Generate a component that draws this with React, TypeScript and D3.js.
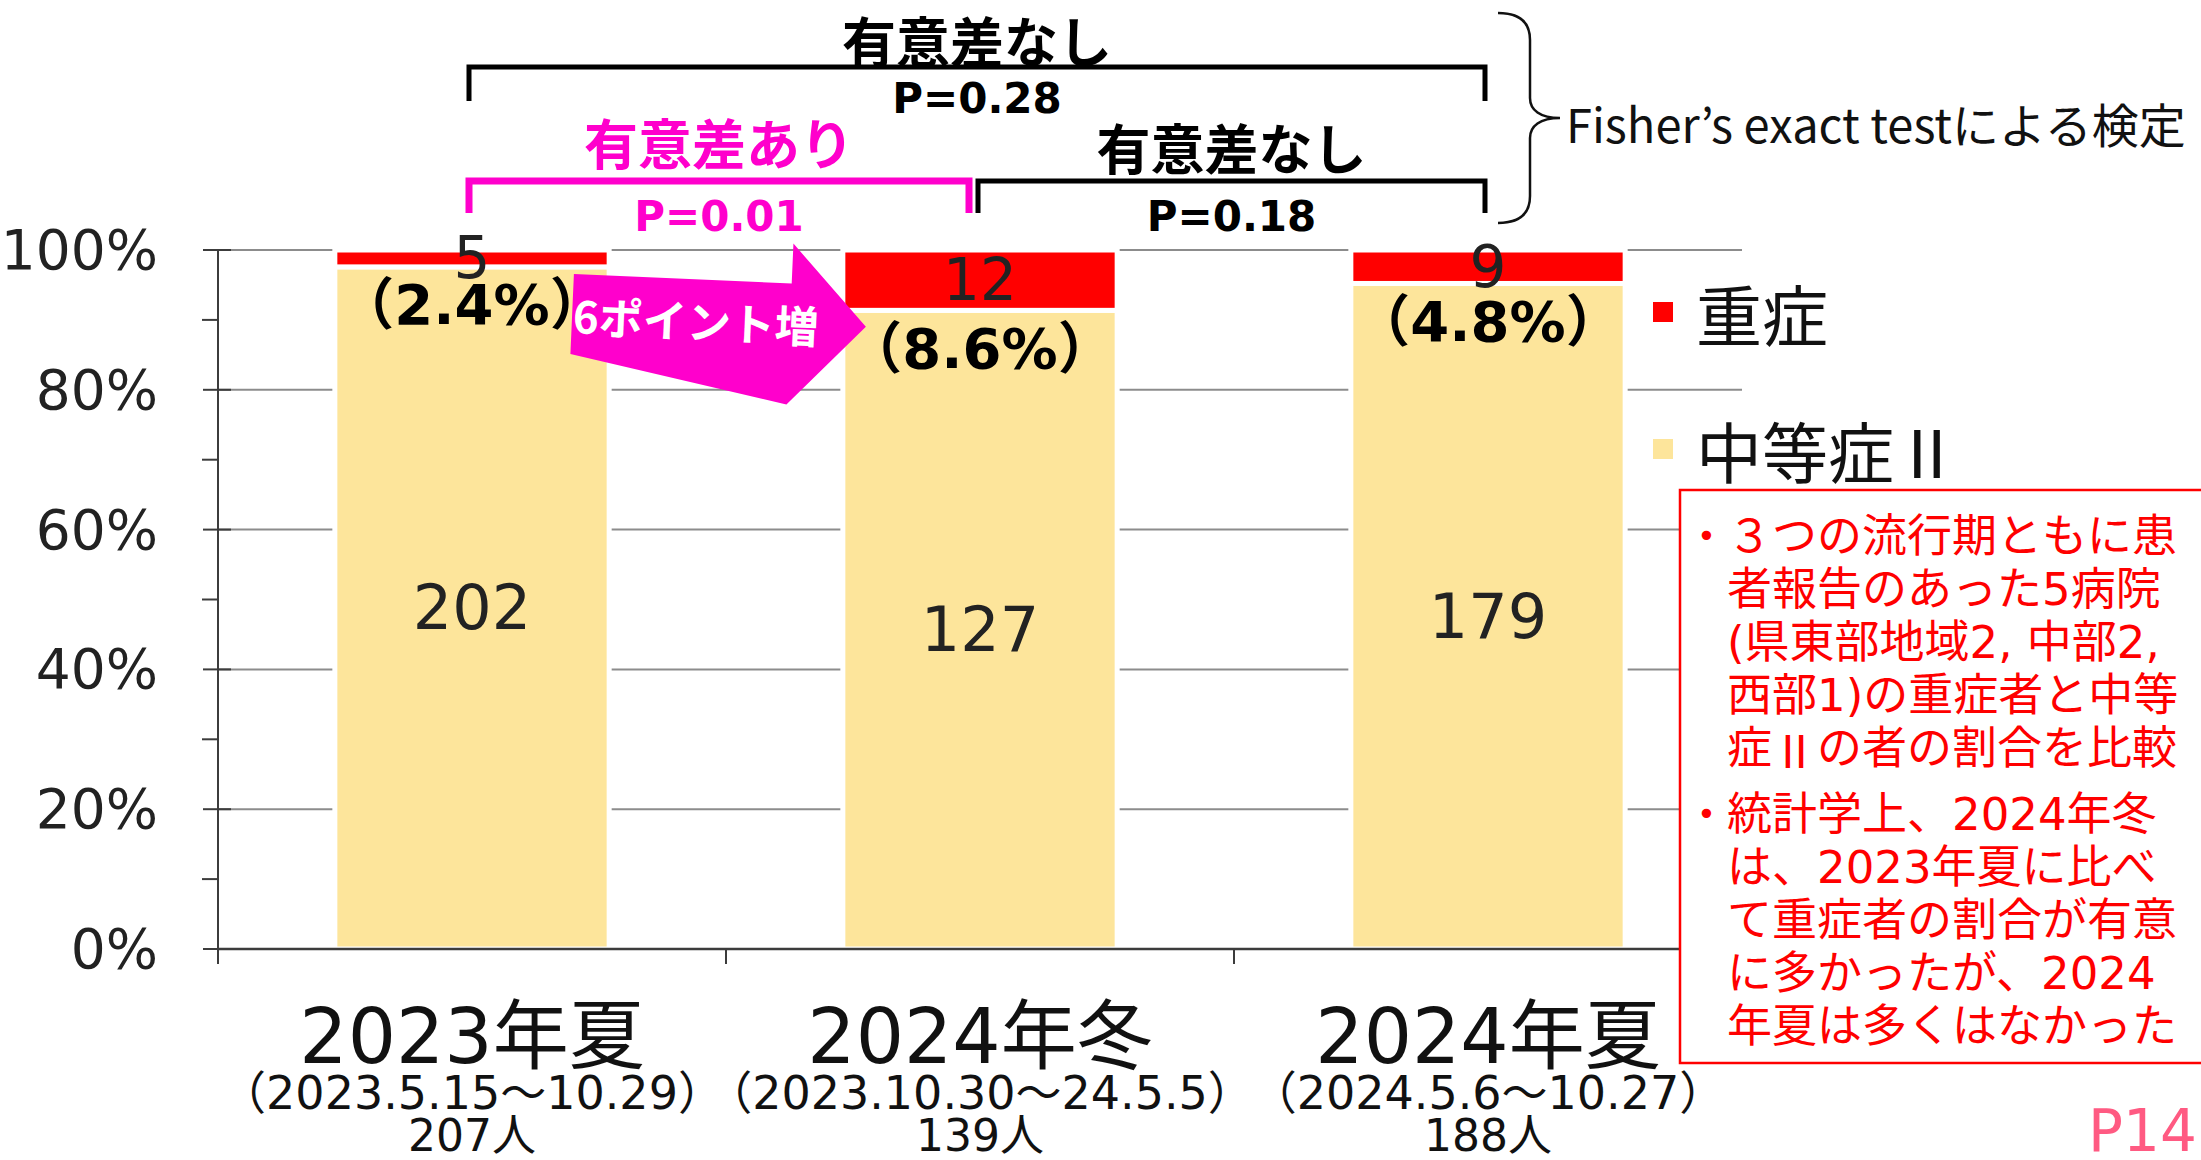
import React, { useRef, useEffect } from 'react';
import * as d3 from 'd3';

// categories and counts
const periods = ['2023年夏', '2024年冬', '2024年夏'];
const periodRanges = ['（2023.5.15～10.29）', '（2023.10.30～24.5.5）', '（2024.5.6～10.27）'];
const severe = [5, 12, 9];
const moderate = [202, 127, 179];
const seriesNames = ['重症', '中等症Ⅱ'];
const seriesColors = ['#ff0000', '#fde59b'];
const yTicks = [0, 0.2, 0.4, 0.6, 0.8, 1];
const yMinorTicks = [0.1, 0.3, 0.5, 0.7, 0.9];

// Fisher's exact test results between periods
const comparisons = [
  { from: 0, to: 2, verdict: '有意差なし', p: 'P=0.28', significant: false },
  { from: 0, to: 1, verdict: '有意差あり', p: 'P=0.01', significant: true },
  { from: 1, to: 2, verdict: '有意差なし', p: 'P=0.18', significant: false },
];
const testLabel = 'Fisher’s exact testによる検定';
const arrowLabel = '6ポイント増';

const noteParagraphs = [
  ['３つの流行期ともに患', '者報告のあった5病院', '(県東部地域2, 中部2,', '西部1)の重症者と中等', '症Ⅱの者の割合を比較'],
  ['統計学上、2024年冬', 'は、2023年夏に比べ', 'て重症者の割合が有意', 'に多かったが、2024', '年夏は多くはなかった'],
];
const pageLabel = 'P14';

const NUM_FONT = '"DejaVu Sans", "Noto Sans CJK JP", sans-serif';
const JP_FONT = '"Noto Sans CJK JP", sans-serif';
const MAGENTA = '#ff00cc';

function App() {
  const svgRef = useRef<SVGSVGElement | null>(null);
  const width = 2201;
  const height = 1160;

  useEffect(() => {
    const svg = d3.select(svgRef.current);
    svg.selectAll('*').remove();

    const x0 = 218, x1 = 1742, yTop = 250, yBase = 949;

    const xScale = d3.scaleBand<string>()
      .domain(periods)
      .range([x0, x1])
      .paddingInner(0.46)
      .paddingOuter(0.23);
    const yScale = d3.scaleLinear().domain([0, 1]).range([yBase, yTop]);

    const rows = periods.map((p, i) => {
      const total = severe[i] + moderate[i];
      return { period: p, moderate: moderate[i] / total, severe: severe[i] / total, total, i };
    });
    const stacked = d3.stack<any>().keys(['moderate', 'severe'])(rows);

    // gridlines
    svg.append('g')
      .selectAll('line')
      .data(yTicks.filter(d => d > 0))
      .enter()
      .append('line')
      .attr('x1', x0).attr('x2', x1)
      .attr('y1', d => yScale(d)).attr('y2', d => yScale(d))
      .attr('stroke', '#8c8c8c')
      .attr('stroke-width', 2);

    // bars
    stacked.forEach((layer, li) => {
      svg.append('g')
        .selectAll('rect')
        .data(layer)
        .enter()
        .append('rect')
        .attr('x', d => xScale(d.data.period)!)
        .attr('width', xScale.bandwidth())
        .attr('y', d => yScale(d[1]))
        .attr('height', d => yScale(d[0]) - yScale(d[1]))
        .attr('fill', seriesColors[1 - li])
        .attr('stroke', '#fff')
        .attr('stroke-width', 5);
    });

    // axes
    const axis = svg.append('g').attr('stroke', '#3c3c3c');
    axis.append('line')
      .attr('x1', x0).attr('x2', x1)
      .attr('y1', yBase).attr('y2', yBase)
      .attr('stroke-width', 2.5);
    axis.append('line')
      .attr('x1', x0).attr('x2', x0)
      .attr('y1', yTop).attr('y2', yBase + 14)
      .attr('stroke-width', 2);
    yTicks.forEach(t => {
      axis.append('line')
        .attr('x1', x0 - 15).attr('x2', x0 + 13)
        .attr('y1', yScale(t)).attr('y2', yScale(t))
        .attr('stroke-width', 2);
    });
    yMinorTicks.forEach(t => {
      axis.append('line')
        .attr('x1', x0 - 16).attr('x2', x0)
        .attr('y1', yScale(t)).attr('y2', yScale(t))
        .attr('stroke-width', 2);
    });
    const step = xScale.step();
    d3.range(periods.length + 1).forEach(k => {
      axis.append('line')
        .attr('x1', x0 + k * step).attr('x2', x0 + k * step)
        .attr('y1', yBase).attr('y2', yBase + 15)
        .attr('stroke-width', 2);
    });

    svg.append('g')
      .selectAll('text')
      .data(yTicks)
      .enter()
      .append('text')
      .attr('x', 158)
      .attr('y', d => yScale(d))
      .attr('text-anchor', 'end')
      .attr('dominant-baseline', 'central')
      .style('font-family', NUM_FONT)
      .style('font-size', '55px')
      .attr('fill', '#222')
      .text(d => `${Math.round(d * 100)}%`);

    // category labels
    const cat = svg.append('g')
      .attr('text-anchor', 'middle')
      .attr('dominant-baseline', 'central')
      .attr('fill', '#111')
      .style('font-family', NUM_FONT);
    rows.forEach(r => {
      const cx = xScale(r.period)! + xScale.bandwidth() / 2;
      cat.append('text').attr('x', cx).attr('y', 1036).style('font-size', '76px').text(r.period);
      cat.append('text').attr('x', cx).attr('y', 1093).style('font-size', '46px').text(periodRanges[r.i]);
      cat.append('text').attr('x', cx).attr('y', 1135).style('font-size', '44px').text(`${r.total}人`);
    });

    // value labels
    const lbl = svg.append('g')
      .attr('text-anchor', 'middle')
      .attr('dominant-baseline', 'central')
      .style('font-family', NUM_FONT);
    rows.forEach(r => {
      const cx = xScale(r.period)! + xScale.bandwidth() / 2;
      const split = yScale(r.moderate);
      lbl.append('text')
        .attr('x', cx).attr('y', (yScale(1) + split) / 2)
        .style('font-size', '58px').attr('fill', '#222')
        .text(severe[r.i]);
      lbl.append('text')
        .attr('x', cx).attr('y', (split + yBase) / 2)
        .style('font-size', '62px').attr('fill', '#222')
        .text(moderate[r.i]);
      lbl.append('text')
        .attr('x', cx).attr('y', split + 38)
        .style('font-size', '56px').style('font-weight', 'bold').attr('fill', '#000')
        .text(`（${(r.severe * 100).toFixed(1)}%）`);
    });

    // arrow between first two periods
    const ax = xScale(periods[0])! + xScale.bandwidth() - 37;
    const arrow = svg.append('g').attr('transform', `translate(${ax},314) rotate(2.5)`);
    arrow.append('polygon')
      .attr('points', '0,-40 218,-40 218,-80 294,0 218,81 0,40')
      .attr('fill', MAGENTA);
    arrow.append('text')
      .attr('x', 124).attr('y', 0)
      .attr('text-anchor', 'middle')
      .attr('dominant-baseline', 'central')
      .style('font-family', JP_FONT)
      .style('font-size', '44px')
      .style('font-weight', 'bold')
      .attr('fill', '#fff')
      .text(arrowLabel);

    // comparison brackets
    const centers = rows.map(r => xScale(r.period)! + xScale.bandwidth() / 2);
    comparisons.forEach(c => {
      const upper = c.to - c.from > 1;
      const color = c.significant ? MAGENTA : '#000';
      const by = upper ? 67 : 181;
      const legEnd = upper ? 101 : 213;
      const left = centers[c.from] + (c.from === 1 ? -2 : -3);
      const right = centers[c.to] + (c.to === 1 ? -11 : -3);
      const g = svg.append('g');
      g.append('path')
        .attr('d', `M${left},${legEnd} V${by} H${right} V${legEnd}`)
        .attr('fill', 'none')
        .attr('stroke', color)
        .attr('stroke-width', c.significant ? 7 : 5);
      const mid = (left + right) / 2;
      g.append('text')
        .attr('x', mid).attr('y', upper ? 39 : (c.significant ? 141 : 146))
        .attr('text-anchor', 'middle')
        .attr('dominant-baseline', 'central')
        .style('font-family', JP_FONT)
        .style('font-size', '54px')
        .style('font-weight', 'bold')
        .attr('fill', color)
        .text(c.verdict);
      g.append('text')
        .attr('x', mid).attr('y', upper ? 98 : 216)
        .attr('text-anchor', 'middle')
        .attr('dominant-baseline', 'central')
        .style('font-family', NUM_FONT)
        .style('font-size', '42px')
        .style('font-weight', 'bold')
        .attr('fill', color)
        .text(c.p);
    });

    // curly brace + test note
    svg.append('path')
      .attr('d', 'M1498,13 C1520,13 1530,22 1530,40 L1530,98 C1530,110 1540,118 1560,118 C1540,118 1530,126 1530,138 L1530,196 C1530,214 1520,223 1498,223')
      .attr('fill', 'none')
      .attr('stroke', '#111')
      .attr('stroke-width', 2.5);
    svg.append('text')
      .attr('x', 1566).attr('y', 122)
      .attr('dominant-baseline', 'central')
      .style('font-family', JP_FONT)
      .style('font-size', '47px')
      .attr('fill', '#111')
      .text(testLabel);

    // legend
    seriesNames.forEach((name, i) => {
      const ly = i === 0 ? 312 : 449;
      svg.append('rect')
        .attr('x', 1653).attr('y', ly - 10)
        .attr('width', 20).attr('height', 20)
        .attr('fill', seriesColors[i]);
      svg.append('text')
        .attr('x', 1696).attr('y', ly)
        .attr('dominant-baseline', 'central')
        .style('font-family', JP_FONT)
        .style('font-size', '66px')
        .attr('fill', '#111')
        .text(name);
    });

    // note box
    svg.append('rect')
      .attr('x', 1680).attr('y', 490)
      .attr('width', 560).attr('height', 573)
      .attr('fill', '#fff')
      .attr('stroke', '#ff0000')
      .attr('stroke-width', 2.5);
    const note = svg.append('g')
      .attr('fill', '#ff0000')
      .attr('dominant-baseline', 'central')
      .style('font-family', NUM_FONT)
      .style('font-size', '45px');
    let ny = 536;
    noteParagraphs.forEach((lines, pi) => {
      if (pi > 0) ny += 13;
      note.append('text').attr('x', 1697).attr('y', ny).style('font-size', '32px').text('•');
      lines.forEach(line => {
        const t = note.append('text').attr('x', 1727).attr('y', ny);
        // Roman numeral from the CJK font so it keeps full width
        line.split(/(Ⅱ)/).forEach(part => {
          if (!part) return;
          const ts = t.append('tspan').text(part);
          if (part === 'Ⅱ') ts.style('font-family', JP_FONT);
        });
        ny += 53;
      });
    });

    svg.append('text')
      .attr('x', 2088).attr('y', 1151)
      .style('font-family', NUM_FONT)
      .style('font-size', '58px')
      .attr('fill', '#ff5a82')
      .text(pageLabel);
  }, []);

  return (
    <svg
      ref={svgRef}
      width={width}
      height={height}
      style={{ position: 'absolute', left: 0, top: 0, background: '#fff' }}
    />
  );
}

export default App;
